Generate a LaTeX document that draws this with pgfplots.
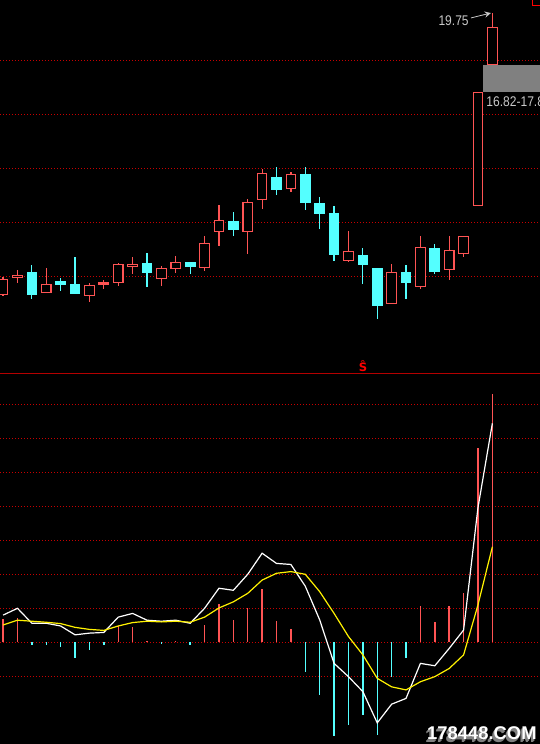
\documentclass[border=0pt]{standalone}
\usepackage{pgfplots}
\pgfplotsset{compat=1.18}
\usepackage{pgfplotstable}
\usepackage{fontspec}
\setmainfont{Liberation Sans}
\newfontfamily\quotefont[FakeStretch=0.86]{Liberation Sans}
\newfontfamily\markfont{DejaVu Sans}

\definecolor{upred}{RGB}{255,84,84}
\definecolor{downcyan}{RGB}{84,255,255}
\definecolor{gridred}{RGB}{200,0,0}
\definecolor{sepred}{RGB}{180,0,0}
\definecolor{labelgray}{RGB}{200,200,200}
\definecolor{gapgray}{RGB}{128,128,128}

% daily candles: rising days (close > open)
\pgfplotstableread{
i  o     h     l     c
0  9.32  9.99  9.28  9.89
1  9.95  10.22 9.76  10.04
3  9.39  10.31 9.39  9.70
6  9.28  9.75  9.05  9.67
7  9.69  9.85  9.54  9.75
8  9.76  10.48 9.65  10.44
9  10.36 10.71 10.09 10.44
11 9.91  10.38 9.65  10.30
12 10.28 10.75 10.13 10.52
14 10.32 11.49 10.21 11.22
15 11.65 12.64 11.13 12.07
17 11.65 12.86 10.84 12.74
18 12.84 13.96 12.49 13.81
20 13.24 13.85 13.13 13.78
24 10.59 11.68 10.54 10.93
27 8.99  10.46 8.99  10.15
29 9.61  11.49 9.54  11.07
31 10.24 11.49 9.87  10.96
32 10.84 11.48 10.73 11.48
33 12.61 16.82 12.61 16.82
34 17.84 19.75 17.84 19.22
}\upbars

% daily candles: falling days (close < open)
\pgfplotstableread{
i  o     h     l     c
2  10.12 10.42 9.16  9.34
4  9.79  9.94  9.46  9.69
5  9.68  10.71 9.36  9.36
10 10.46 10.86 9.61  10.13
13 10.49 10.53 10.09 10.38
16 12.01 12.38 11.49 11.75
19 13.64 14.05 13.02 13.23
21 13.75 14.05 12.46 12.73
22 12.68 12.94 11.75 12.32
23 12.34 12.60 10.57 10.80
25 10.75 11.05 9.71  10.43
26 10.27 10.27 8.42  8.91
28 10.12 10.42 9.16  9.76
30 11.01 11.20 10.09 10.17
}\downbars

% MACD: DIF, DEA and histogram
\pgfplotstableread{
i  dif   dea   m
0  0.80  0.51  0.69
1  1.00  0.65  0.72
2  0.56  0.62  -0.08
3  0.56  0.59  -0.08
4  0.48  0.55  -0.14
5  0.22  0.44  -0.45
6  0.27  0.38  -0.23
7  0.29  0.35  -0.08
8  0.74  0.48  0.48
9  0.85  0.58  0.45
10 0.65  0.62  0.04
11 0.62  0.60  -0.05
12 0.65  0.62  0.04
13 0.56  0.59  -0.08
14 1.00  0.74  0.51
15 1.59  1.01  1.13
16 1.53  1.19  0.66
17 2.00  1.44  1.01
18 2.62  1.83  1.57
19 2.32  2.03  0.63
20 2.29  2.08  0.39
21 1.65  2.00  -0.86
22 0.66  1.49  -1.54
23 -0.62 0.85  -2.77
24 -1.01 0.17  -2.42
25 -1.45 -0.37 -2.13
26 -2.37 -1.06 -2.72
27 -1.82 -1.31 -1.01
28 -1.65 -1.40 -0.45
29 -0.62 -1.16 1.07
30 -0.69 -1.01 0.60
31 -0.18 -0.77 1.07
32 0.36  -0.37 1.46
33 3.96  1.10  5.72
34 6.44  2.81  7.30
}\macd

\pgfplotsset{
  panel/.style={scale only axis, width=270pt, xmin=-0.2154, xmax=37.311,
    enlargelimits=false, axis line style={draw=none}, xtick=\empty,
    yticklabels={}, major tick length=0pt, clip=true},
  dotgrid/.style={ymajorgrids,
    major grid style={draw=gridred, line width=0.5pt, dash pattern=on 0.5pt off 1pt}},
  pricepanel/.style={panel, at={(0pt,185.35pt)}, anchor=south west,
    height=186.65pt, ymin=6.407, ymax=20.233},
  macdpanel/.style={panel, at={(0pt,0pt)}, anchor=south west,
    height=185.35pt, ymin=-2.991, ymax=7.912},
}

\begin{document}
\begin{tikzpicture}
\fill[black] (0,0) rectangle (270pt,372pt);
\begin{scope}
\clip (0,0) rectangle (270pt,372pt);

% price panel: grid, gap box and wicks
\begin{axis}[pricepanel, dotgrid, ytick={10,12,14,16,18}]
  \addplot[fill=gapgray, draw=none] coordinates
    {(33.35,16.82) (38,16.82) (38,17.84) (33.35,17.84)} -- cycle;
  \addplot[draw=none, mark=none, error bars/.cd, y dir=plus, y explicit,
    error mark=none, error bar style={draw=upred, solid, line width=0.6pt}]
    table[x=i, y=l, y error plus expr=\thisrow{h}-\thisrow{l}] {\upbars};
  \addplot[draw=none, mark=none, error bars/.cd, y dir=plus, y explicit,
    error mark=none, error bar style={draw=downcyan, solid, line width=0.6pt}]
    table[x=i, y=l, y error plus expr=\thisrow{h}-\thisrow{l}] {\downbars};
  \node[anchor=east, text=labelgray, inner sep=0pt,
    font=\quotefont\fontsize{7}{8}\selectfont] at (axis cs:32.38,19.47) {19.75};
  \draw[labelgray, line width=0.4pt, ->, >=stealth]
    (axis cs:32.52,19.57) -- (axis cs:33.9,19.75);
  \node[anchor=west, text=labelgray, inner sep=0pt,
    font=\quotefont\fontsize{7}{8}\selectfont] at (axis cs:33.56,16.47) {16.82-17.84};
\end{axis}

% rising bodies, hollow
\begin{axis}[pricepanel, ybar stacked, bar width=4.75pt]
  \addplot[draw=none, fill=none] table[x=i, y=o] {\upbars};
  \addplot[draw=upred, fill=black, line width=0.6pt]
    table[x=i, y expr=\thisrow{c}-\thisrow{o}] {\upbars};
\end{axis}

% falling bodies, filled
\begin{axis}[pricepanel, ybar stacked, bar width=4.75pt]
  \addplot[draw=none, fill=none] table[x=i, y=c] {\downbars};
  \addplot[draw=downcyan, fill=downcyan, line width=0.6pt]
    table[x=i, y expr=\thisrow{o}-\thisrow{c}] {\downbars};
\end{axis}

% MACD panel
\begin{axis}[macdpanel, dotgrid, ytick={-1,0,...,7}]
  \addplot[ycomb, upred, line width=0.7pt, restrict y to domain=0:20]
    table[x=i, y=m] {\macd};
  \addplot[ycomb, downcyan, line width=0.7pt, restrict y to domain=-20:0]
    table[x=i, y=m] {\macd};
  \addplot[white, line width=0.6pt, mark=none] table[x=i, y=dif] {\macd};
  \addplot[yellow, line width=0.6pt, mark=none] table[x=i, y=dea] {\macd};
\end{axis}

\draw[sepred, line width=0.5pt] (0,185.35pt) -- (270pt,185.35pt);
\node[anchor=base, text=red, inner sep=0pt,
  font=\markfont\bfseries\fontsize{5.8}{6}\selectfont] at (181.5pt,186.2pt) {Ŝ};
\draw[red, line width=0.5pt] (266.2pt,369.4pt) rectangle (272pt,374pt);

% site mark
\foreach \d in {1.0,0.5} {
  \node[anchor=base east, inner sep=0pt, text=gapgray,
    font=\bfseries\fontsize{9.2}{10}\selectfont] at (268.5pt-\d pt,2pt-\d pt) {178448.COM};
}
\node[anchor=base east, inner sep=0pt, text=white,
  font=\bfseries\fontsize{9.2}{10}\selectfont] at (268.5pt,2pt) {178448.COM};
\end{scope}
\pgfresetboundingbox
\useasboundingbox (0,0) rectangle (270pt,372pt);
\end{tikzpicture}
\end{document}
